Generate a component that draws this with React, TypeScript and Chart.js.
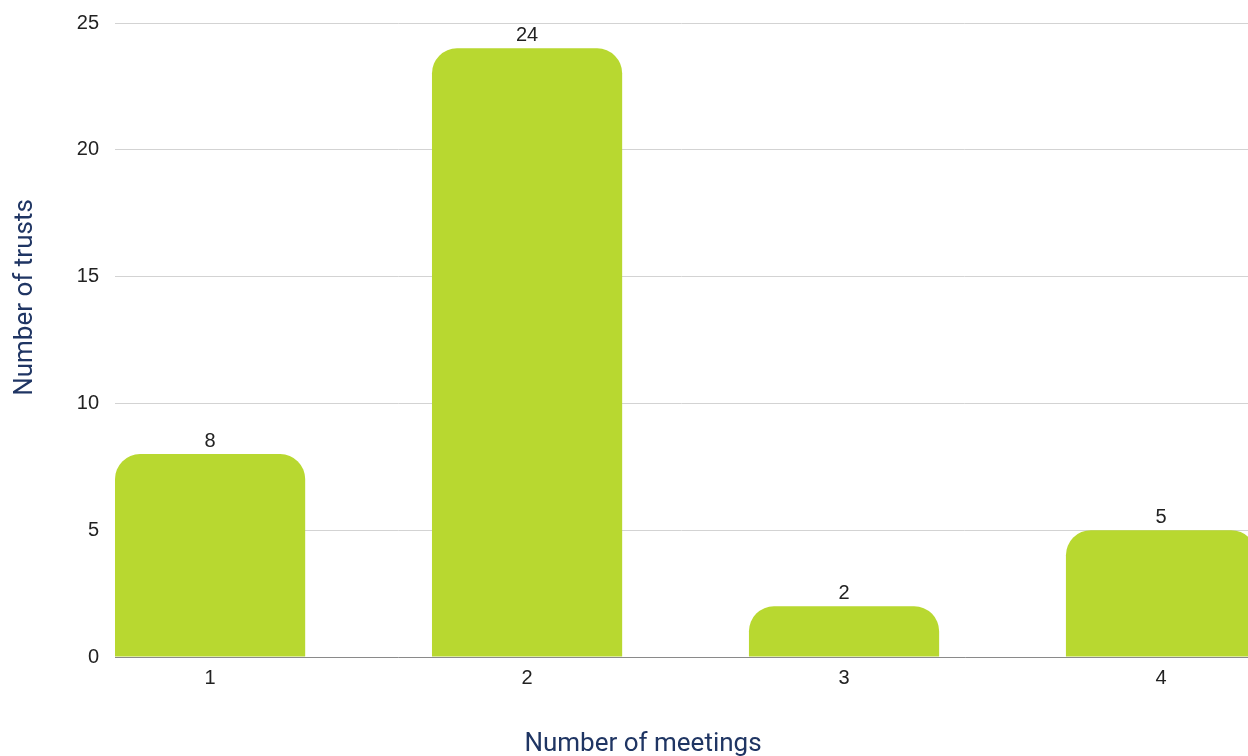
import React, { useEffect, useRef } from "react";
import { Chart, registerables } from "chart.js";

Chart.register(...registerables);

const meetings = [1, 2, 3, 4];
const trusts = [8, 24, 2, 5];
const yTicks = [0, 5, 10, 15, 20, 25];
const xTitle = "Number of meetings";
const yTitle = "Number of trusts";

const barColor = "#b8d830";
const titleColor = "#1f3563";
const tickColor = "#222222";
const numFont = "'Liberation Sans', Arial, sans-serif";

const labelPlugin = {
  id: "labelsAndTitles",
  afterDatasetsDraw(chart: any) {
    const ctx = chart.ctx;
    const meta = chart.getDatasetMeta(0);
    ctx.save();
    ctx.fillStyle = tickColor;
    ctx.font = "20px " + numFont;
    ctx.textAlign = "center";
    ctx.textBaseline = "alphabetic";
    meta.data.forEach((bar: any, i: number) => {
      ctx.fillText(String(trusts[i]), bar.x, bar.y - 7);
    });
    ctx.restore();
  },
  afterDraw(chart: any) {
    const ctx = chart.ctx;
    ctx.save();
    ctx.fillStyle = titleColor;
    ctx.font = "26px Roboto, sans-serif";
    ctx.textAlign = "center";
    ctx.textBaseline = "alphabetic";
    ctx.fillText(xTitle, 643, 751);
    ctx.translate(32, 297.5);
    ctx.rotate(-Math.PI / 2);
    ctx.fillText(yTitle, 0, 0);
    ctx.restore();
  },
};

export default function App() {
  const ref = useRef<HTMLCanvasElement>(null);
  useEffect(() => {
    document.body.style.margin = "0";
    const chart = new Chart(ref.current!, {
      type: "bar",
      data: {
        datasets: [
          {
            data: meetings.map((m, i) => ({ x: m, y: trusts[i] })),
            backgroundColor: barColor,
            borderRadius: { topLeft: 25, topRight: 25, bottomLeft: 0, bottomRight: 0 },
            borderSkipped: "bottom",
            barPercentage: 0.6,
            categoryPercentage: 1,
          },
        ],
      },
      options: {
        animation: false,
        responsive: false,
        layout: { padding: { top: 23, right: 0, left: 0, bottom: 0 } },
        plugins: { legend: { display: false }, tooltip: { enabled: false } },
        scales: {
          x: {
            type: "linear",
            offset: false,
            min: 0.7,
            max: 4.2744,
            grid: { display: false, drawTicks: false },
            border: { display: true, color: "#8a8a8a", width: 1 },
            afterBuildTicks: (axis: any) => {
              axis.ticks = meetings.map((v) => ({ value: v }));
            },
            ticks: {
              color: tickColor,
              font: { size: 20, family: numFont },
              padding: 9,
              callback: (v: any) => String(v),
            },
            afterFit: (axis: any) => {
              axis.height = 99;
              axis.paddingLeft = 0;
              axis.paddingRight = 0;
            },
          },
          y: {
            min: 0,
            max: 25,
            afterBuildTicks: (axis: any) => {
              axis.ticks = yTicks.map((v) => ({ value: v }));
            },
            grid: { color: "#d3d3d3", drawTicks: false, lineWidth: 1 },
            border: { display: false },
            ticks: {
              color: tickColor,
              font: { size: 20, family: numFont },
              padding: 16,
            },
            afterFit: (axis: any) => {
              axis.width = 115;
              axis.paddingTop = 0;
              axis.paddingBottom = 0;
            },
          },
        },
      },
      plugins: [labelPlugin],
    } as any);
    return () => chart.destroy();
  }, []);
  return (
    <div style={{ position: "absolute", left: 0, top: 0, width: 1248, height: 756 }}>
      <canvas ref={ref} width={1248} height={756} style={{ display: "block" }} />
    </div>
  );
}
